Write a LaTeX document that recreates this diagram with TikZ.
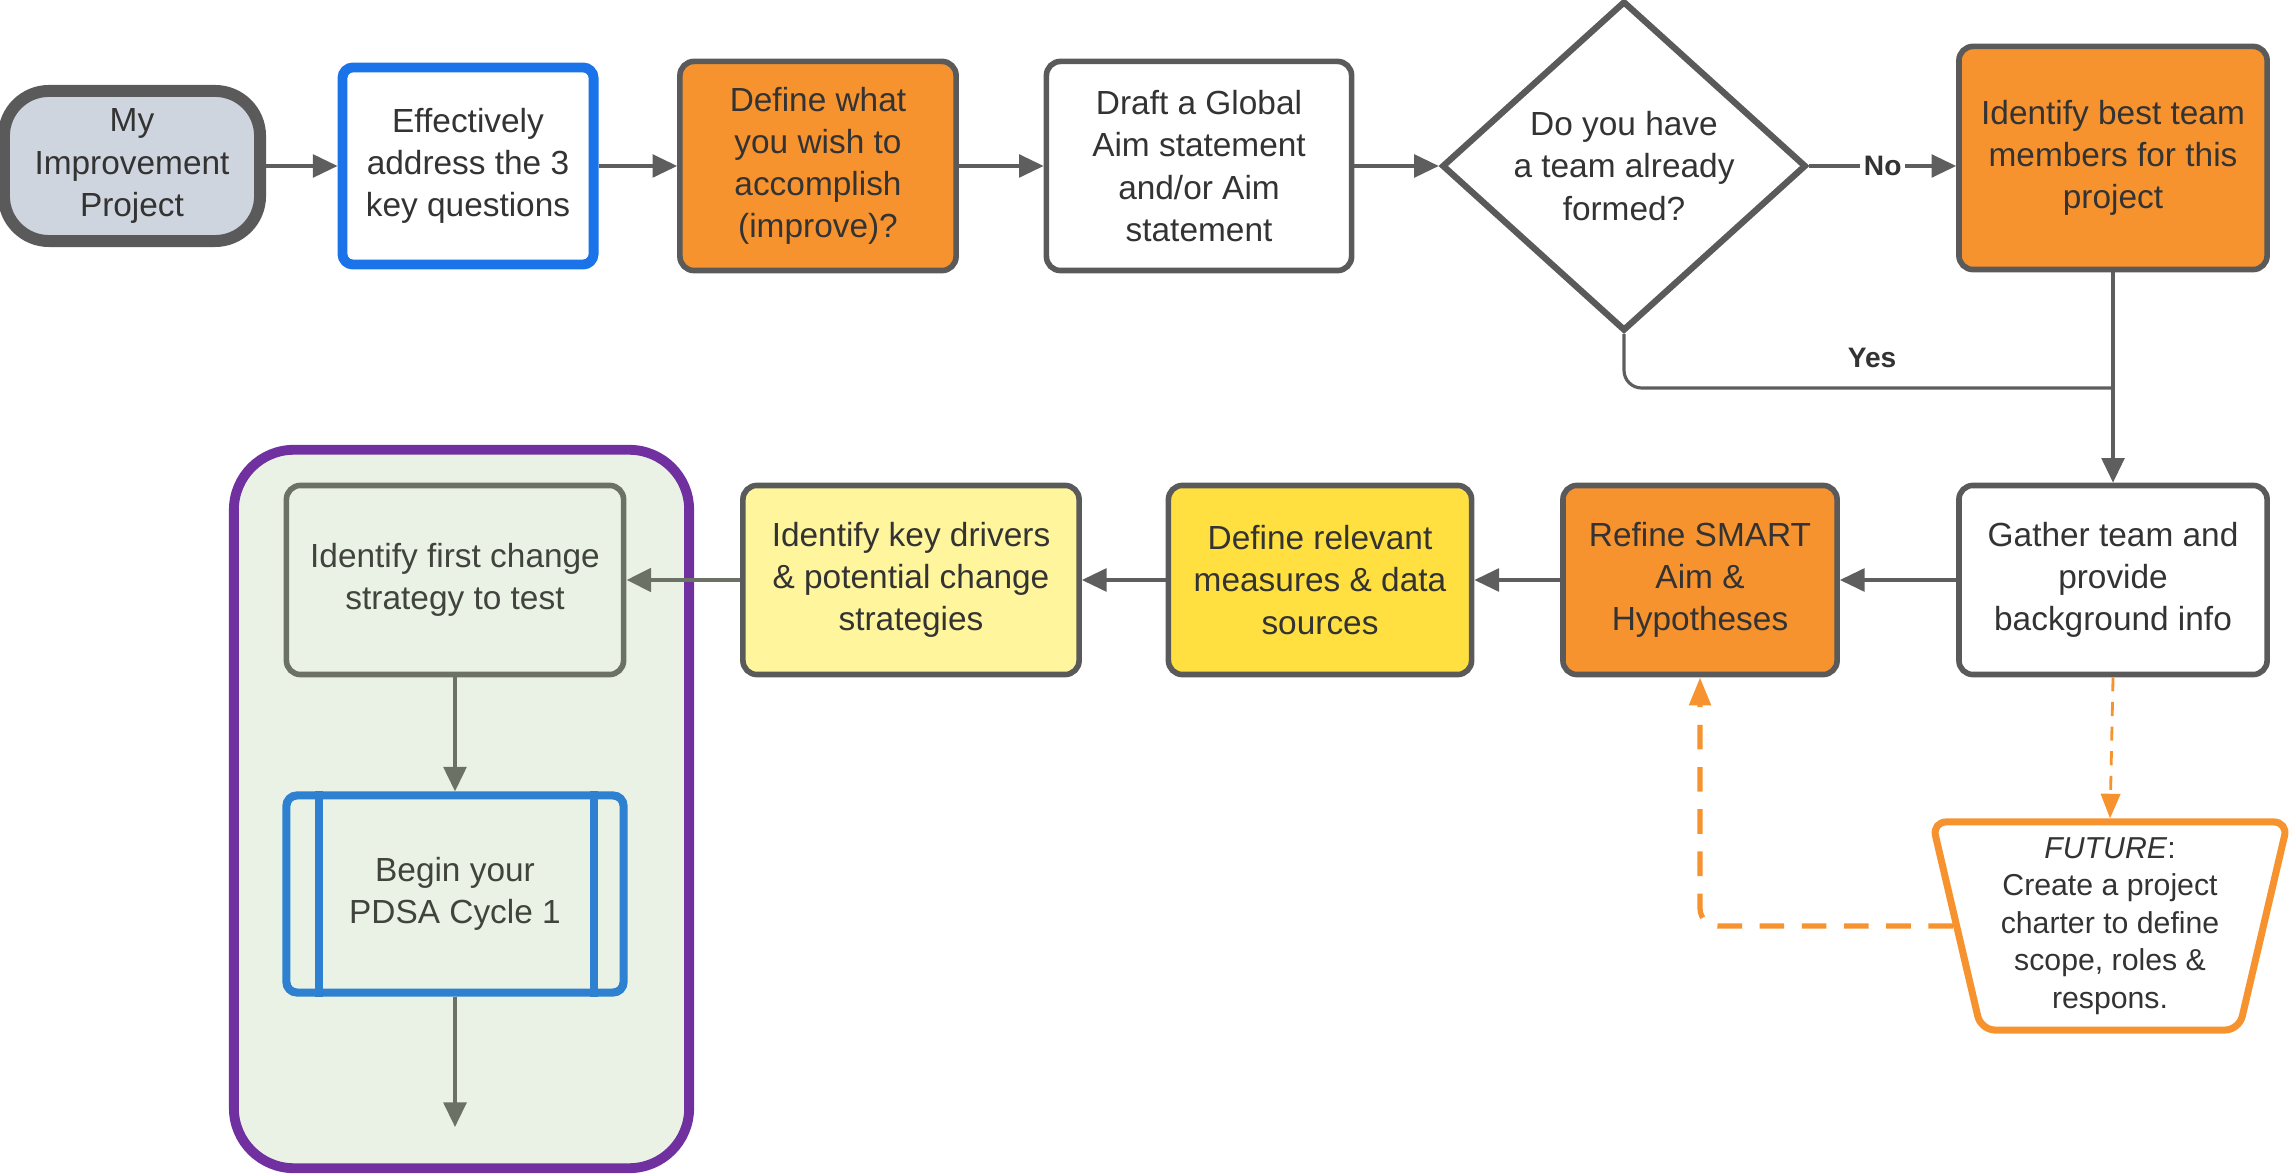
\documentclass[tikz,border=0pt]{standalone}
\usepackage{fontspec}
\setmainfont{Liberation Sans}
\usetikzlibrary{shapes.geometric,arrows.meta}

\definecolor{naranja}{HTML}{F7932F}
\definecolor{amarillo}{HTML}{FFE040}
\definecolor{amarilloclaro}{HTML}{FFF59C}
\definecolor{grisborde}{HTML}{5A5A5A}
\definecolor{grisflecha}{HTML}{5E5E5E}
\definecolor{azul}{HTML}{1A73E8}
\definecolor{azulpdsa}{HTML}{2E80D0}
\definecolor{morado}{HTML}{7030A0}
\definecolor{verdeclaro}{HTML}{EAF2E6}
\definecolor{grisverde}{HTML}{6B7164}
\definecolor{gristexto}{HTML}{333333}
\definecolor{gristerm}{HTML}{CFD5DE}

\begin{document}
\begin{tikzpicture}[x=0.01cm, y=-0.01cm,
    every node/.style={font=\fontsize{9.5}{12}\selectfont, text=gristexto, align=center},
    caja/.style={draw=grisborde, line width=1.6pt, rounded corners=4pt, inner sep=2pt,
        minimum height=1.89cm},
    flecha/.style={draw=grisflecha, line width=0.9pt, -{Triangle[length=7pt,width=6.5pt]}},
    flechaverde/.style={draw=grisverde, line width=1pt, -{Triangle[length=7pt,width=6.5pt]}},
    futura/.style={draw=naranja, line width=0.8pt, dash pattern=on 4pt off 3pt,
        -{Triangle[length=7pt,width=5.5pt]}},
    futurafuerte/.style={draw=naranja, line width=1.5pt, dash pattern=on 7pt off 5pt,
        rounded corners=5pt, -{Triangle[length=8pt,width=6pt]}},
    etiqueta/.style={font=\bfseries\fontsize{8}{10}\selectfont}]
    \useasboundingbox (0,0) rectangle (2289,1174);
    % Grupo del ciclo PDSA
    \node[draw=morado, line width=2.8pt, fill=verdeclaro, rounded corners=0.6cm,
        minimum width=4.55cm, minimum height=7.18cm] (grupo) at (461.5,809) {};
    % Fila superior
    \node[draw=grisborde, fill=gristerm, line width=3.4pt, rounded corners=0.45cm,
        minimum width=2.56cm, minimum height=1.5cm] (inicio) at (132,166)
        {My\\Improvement\\Project};
    \node[caja, draw=azul, line width=2.8pt, rounded corners=3pt, fill=white,
        minimum width=2.51cm, minimum height=1.97cm] (efectivo) at (468,166)
        {Effectively\\address the 3\\key questions};
    \node[caja, fill=naranja, minimum width=2.76cm, minimum height=2.09cm] (definir) at (818,166)
        {Define what\\you wish to\\accomplish\\(improve)?};
    \node[caja, fill=white, minimum width=3.05cm, minimum height=2.09cm] (borrador) at (1199,166)
        {Draft a Global\\Aim statement\\and/or Aim\\statement};
    \node[diamond, draw=grisborde, line width=1.8pt, fill=white, inner sep=0pt,
        minimum width=3.64cm, minimum height=3.1cm] (equipo) at (1624,166)
        {Do you have\\a team already\\formed?};
    \node[caja, fill=naranja, minimum width=3.08cm, minimum height=2.23cm] (mejores) at (2113,158)
        {Identify best team\\members for this\\project};
    % Fila inferior
    \node[caja, fill=white, minimum width=3.08cm] (reunir) at (2113,580)
        {Gather team and\\provide\\background info};
    \node[caja, fill=naranja, minimum width=2.74cm] (refinar) at (1700,580)
        {Refine SMART\\Aim \&\\Hypotheses};
    \node[caja, fill=amarillo, minimum width=3.03cm] (medidas) at (1320,580)
        {Define relevant\\measures \& data\\sources};
    \node[caja, fill=amarilloclaro, minimum width=3.36cm] (impulsores) at (911,580)
        {Identify key drivers\\\& potential change\\strategies};
    \node[caja, draw=grisverde, fill=verdeclaro, text=grisverde!60!black,
        minimum width=3.37cm] (primer) at (455,580)
        {Identify first change\\strategy to test};
    \node[caja, draw=azulpdsa, line width=2.3pt, fill=verdeclaro, rounded corners=3pt,
        text=grisverde!60!black, minimum width=3.37cm, minimum height=1.97cm] (pdsa) at (455,894)
        {Begin your\\PDSA Cycle 1};
    \draw[azulpdsa, line width=2.3pt] ([xshift=0.37cm]pdsa.north west) -- ([xshift=0.37cm]pdsa.south west);
    \draw[azulpdsa, line width=2.3pt] ([xshift=-0.34cm]pdsa.north east) -- ([xshift=-0.34cm]pdsa.south east);
    \coordinate (fin) at (455,1127);
    % Carta futura
    \node[trapezium, draw=naranja, line width=2pt, fill=white, rounded corners=4pt,
        trapezium left angle=77, trapezium right angle=77, shape border rotate=180,
        trapezium stretches=true, inner sep=1pt, minimum width=3.56cm, minimum height=2.08cm,
        font=\fontsize{8.6}{10.7}\selectfont] (futuro) at (2110,926)
        {\textit{FUTURE}:\\Create a project\\charter to define\\scope, roles \&\\respons.};
    % Conectores
    \draw[flecha] (inicio.east) -- (inicio.east -| efectivo.west);
    \draw[flecha] (efectivo.east) -- (efectivo.east -| definir.west);
    \draw[flecha] (definir.east) -- (definir.east -| borrador.west);
    \draw[flecha] (borrador.east) -- (borrador.east -| equipo.west);
    \draw[flecha] (equipo.east) -- node[etiqueta, fill=white, inner sep=1pt] {No}
        (equipo.east -| mejores.west);
    \coordinate (union) at (2113,388);
    \draw[draw=grisflecha, line width=0.9pt, rounded corners=5pt] (equipo.south) |- (union);
    \node[etiqueta] (si) at (1872,358) {Yes};
    \draw[flecha] (mejores.south) -- (reunir.north);
    \draw[flecha] (reunir.west) -- (refinar.east);
    \draw[flecha] (refinar.west) -- (medidas.east);
    \draw[flecha] (medidas.west) -- (impulsores.east);
    \draw[flechaverde, line width=1.4pt] (impulsores.west) -- (primer.east);
    \draw[flechaverde] (primer.south) -- (pdsa.north);
    \draw[flechaverde] (pdsa.south) -- (fin);
    \draw[futura] (reunir.south) -- (futuro.north);
    \draw[futurafuerte] (futuro.west) -| (refinar.south);
\end{tikzpicture}
\end{document}
